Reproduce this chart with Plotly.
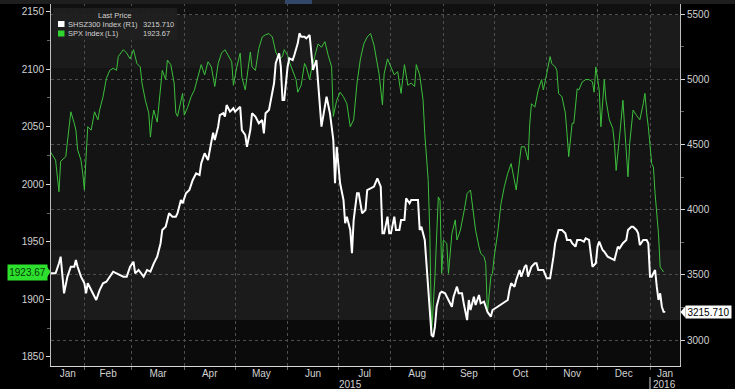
import plotly.graph_objects as go
import pandas as pd

# ---------------- data ----------------
spx_dates = [
    "2015-01-12", "2015-01-15", "2015-01-17", "2015-01-18", "2015-01-21", "2015-01-22", "2015-01-24", "2015-01-26", "2015-01-27", "2015-01-28", "2015-01-30", "2015-01-31",
    "2015-02-01", "2015-02-02", "2015-02-03", "2015-02-05", "2015-02-07", "2015-02-09", "2015-02-10", "2015-02-12", "2015-02-14", "2015-02-16", "2015-02-18", "2015-02-20", "2015-02-21", "2015-02-24", "2015-02-26", "2015-02-28",
    "2015-03-02", "2015-03-04", "2015-03-06", "2015-03-07", "2015-03-09", "2015-03-11", "2015-03-12", "2015-03-13", "2015-03-14", "2015-03-16", "2015-03-18", "2015-03-19", "2015-03-21", "2015-03-22", "2015-03-24", "2015-03-26", "2015-03-27", "2015-03-28", "2015-03-31",
    "2015-04-01", "2015-04-03", "2015-04-05", "2015-04-07", "2015-04-09", "2015-04-11", "2015-04-13", "2015-04-15", "2015-04-17", "2015-04-19", "2015-04-21", "2015-04-23", "2015-04-25", "2015-04-27", "2015-04-29", "2015-04-30",
    "2015-05-02", "2015-05-04", "2015-05-05", "2015-05-07", "2015-05-08", "2015-05-10", "2015-05-11", "2015-05-13", "2015-05-15", "2015-05-17", "2015-05-19", "2015-05-21", "2015-05-23", "2015-05-25", "2015-05-27", "2015-05-29", "2015-05-30",
    "2015-06-01", "2015-06-02", "2015-06-04", "2015-06-06", "2015-06-07", "2015-06-09", "2015-06-11", "2015-06-12", "2015-06-14", "2015-06-15", "2015-06-17", "2015-06-19", "2015-06-21", "2015-06-23", "2015-06-25", "2015-06-27", "2015-06-28", "2015-06-30",
    "2015-07-02", "2015-07-04", "2015-07-06", "2015-07-08", "2015-07-10", "2015-07-12", "2015-07-14", "2015-07-16", "2015-07-18", "2015-07-20", "2015-07-22", "2015-07-24", "2015-07-25", "2015-07-27", "2015-07-28", "2015-07-30",
    "2015-08-01", "2015-08-03", "2015-08-05", "2015-08-07", "2015-08-09", "2015-08-11", "2015-08-13", "2015-08-15", "2015-08-16", "2015-08-18", "2015-08-20", "2015-08-21", "2015-08-23", "2015-08-24", "2015-08-25", "2015-08-27", "2015-08-29", "2015-08-30", "2015-08-31",
    "2015-09-01", "2015-09-03", "2015-09-04", "2015-09-06", "2015-09-08", "2015-09-09", "2015-09-11", "2015-09-13", "2015-09-15", "2015-09-17", "2015-09-18", "2015-09-20", "2015-09-22", "2015-09-23", "2015-09-25", "2015-09-26", "2015-09-27", "2015-09-29", "2015-09-30",
    "2015-10-01", "2015-10-03", "2015-10-05", "2015-10-07", "2015-10-09", "2015-10-11", "2015-10-13", "2015-10-14", "2015-10-16", "2015-10-17", "2015-10-19", "2015-10-21", "2015-10-22", "2015-10-23", "2015-10-25", "2015-10-27", "2015-10-29", "2015-10-30",
    "2015-11-01", "2015-11-03", "2015-11-04", "2015-11-06", "2015-11-07", "2015-11-08", "2015-11-10", "2015-11-12", "2015-11-13", "2015-11-14", "2015-11-16", "2015-11-17", "2015-11-19", "2015-11-20", "2015-11-22", "2015-11-24", "2015-11-26", "2015-11-28", "2015-11-29", "2015-11-30",
    "2015-12-02", "2015-12-03", "2015-12-05", "2015-12-06", "2015-12-08", "2015-12-10", "2015-12-11", "2015-12-12", "2015-12-14", "2015-12-16", "2015-12-17", "2015-12-19", "2015-12-20", "2015-12-22", "2015-12-24", "2015-12-26", "2015-12-28", "2015-12-29", "2015-12-30", "2015-12-31",
    "2016-01-02", "2016-01-03", "2016-01-04", "2016-01-06", "2016-01-07", "2016-01-09",
]
spx_values = [
    2028, 2021, 1993.5, 2020, 2024, 2036, 2063, 2053, 2047, 2030, 2021, 2010,
    1995, 2024, 2050, 2047, 2063, 2056, 2064.5, 2076, 2092, 2099, 2100.8, 2099, 2111, 2117, 2114, 2109,
    2117, 2105, 2102, 2088, 2073, 2062, 2041, 2056, 2064.5, 2054, 2082, 2099, 2091, 2108, 2104, 2088, 2062, 2059, 2079,
    2060, 2067, 2076, 2082, 2093, 2104, 2095, 2106.5, 2102, 2085, 2105, 2114, 2117, 2112, 2106.5, 2086,
    2102, 2114, 2093, 2082, 2093, 2115, 2102, 2099, 2118, 2128, 2130, 2131, 2128, 2115, 2109, 2111, 2117,
    2112, 2106.5, 2099, 2091, 2080, 2086, 2105, 2102, 2091, 2099, 2111, 2122, 2119, 2124, 2112, 2102, 2059, 2073,
    2080, 2076, 2070, 2050, 2056, 2088, 2109, 2122, 2128, 2131, 2121, 2105, 2096, 2069, 2096, 2109,
    2102, 2095, 2098, 2079, 2104, 2086, 2088, 2085, 2104, 2095, 2073, 2044, 2004, 1957, 1870, 1919.6, 1989, 1986, 1922.5,
    1951.5, 1948.6, 1922.5, 1957, 1969, 1951.5, 1960, 1975, 1992, 1995, 1983, 1960, 1945.7, 1940, 1937, 1931, 1887.7, 1919.6, 1922.5,
    1937, 1957, 1983, 1998, 2009.5, 2018, 2004, 1995, 2021, 2032.6, 2032.6, 2021, 2053, 2070, 2067, 2082, 2091, 2082,
    2096, 2111, 2105, 2102, 2099, 2079, 2076, 2062, 2044, 2024, 2053, 2053, 2083, 2082, 2089, 2091, 2091, 2089, 2080, 2102,
    2082, 2050, 2091, 2073, 2056, 2048.6, 2035.6, 2012, 2041, 2073, 2050, 2006.5, 2035.6, 2064.5, 2060, 2056, 2070, 2079, 2062, 2050,
    2018, 2015, 1992, 1957, 1928, 1923.67,
]

csi_dates = [
    "2015-01-12", "2015-01-15", "2015-01-17", "2015-01-18", "2015-01-20", "2015-01-22", "2015-01-24", "2015-01-26", "2015-01-27", "2015-01-28", "2015-01-30",
    "2015-02-01", "2015-02-02", "2015-02-03", "2015-02-05", "2015-02-06", "2015-02-08", "2015-02-10", "2015-02-12", "2015-02-14", "2015-02-16", "2015-02-18", "2015-02-20", "2015-02-22", "2015-02-24", "2015-02-26", "2015-02-28",
    "2015-03-02", "2015-03-03", "2015-03-05", "2015-03-07", "2015-03-08", "2015-03-10", "2015-03-12", "2015-03-14", "2015-03-16", "2015-03-18", "2015-03-19", "2015-03-21", "2015-03-23", "2015-03-25", "2015-03-27", "2015-03-28", "2015-03-30", "2015-03-31",
    "2015-04-02", "2015-04-04", "2015-04-06", "2015-04-08", "2015-04-10", "2015-04-11", "2015-04-13", "2015-04-15", "2015-04-16", "2015-04-18", "2015-04-19", "2015-04-21", "2015-04-22", "2015-04-24", "2015-04-25", "2015-04-26", "2015-04-28", "2015-04-30",
    "2015-05-01", "2015-05-02", "2015-05-04", "2015-05-05", "2015-05-07", "2015-05-08", "2015-05-10", "2015-05-11", "2015-05-13", "2015-05-15", "2015-05-17", "2015-05-18", "2015-05-19", "2015-05-21", "2015-05-22", "2015-05-24", "2015-05-25", "2015-05-27", "2015-05-28", "2015-05-29", "2015-05-30",
    "2015-06-01", "2015-06-02", "2015-06-04", "2015-06-05", "2015-06-07", "2015-06-08", "2015-06-09", "2015-06-11", "2015-06-12", "2015-06-14", "2015-06-15", "2015-06-16", "2015-06-18", "2015-06-19", "2015-06-21", "2015-06-22", "2015-06-24", "2015-06-26", "2015-06-28", "2015-06-29", "2015-06-30",
    "2015-07-02", "2015-07-04", "2015-07-05", "2015-07-06", "2015-07-08", "2015-07-09", "2015-07-10", "2015-07-12", "2015-07-13", "2015-07-15", "2015-07-17", "2015-07-18", "2015-07-20", "2015-07-22", "2015-07-24", "2015-07-26", "2015-07-27", "2015-07-28", "2015-07-30", "2015-07-31",
    "2015-08-01", "2015-08-03", "2015-08-04", "2015-08-06", "2015-08-07", "2015-08-09", "2015-08-10", "2015-08-12", "2015-08-13", "2015-08-15", "2015-08-17", "2015-08-18", "2015-08-19", "2015-08-21", "2015-08-22", "2015-08-23", "2015-08-24", "2015-08-25", "2015-08-26", "2015-08-27", "2015-08-28", "2015-08-30", "2015-08-31",
    "2015-09-02", "2015-09-03", "2015-09-04", "2015-09-06", "2015-09-07", "2015-09-09", "2015-09-10", "2015-09-12", "2015-09-13", "2015-09-15", "2015-09-16", "2015-09-17", "2015-09-19", "2015-09-20", "2015-09-22", "2015-09-23", "2015-09-25", "2015-09-26", "2015-09-27", "2015-09-29", "2015-09-30",
    "2015-10-03", "2015-10-06", "2015-10-09", "2015-10-10", "2015-10-11", "2015-10-13", "2015-10-14", "2015-10-16", "2015-10-17", "2015-10-19", "2015-10-20", "2015-10-21", "2015-10-23", "2015-10-25", "2015-10-26", "2015-10-27", "2015-10-29", "2015-10-30",
    "2015-11-01", "2015-11-03", "2015-11-05", "2015-11-06", "2015-11-08", "2015-11-10", "2015-11-12", "2015-11-13", "2015-11-15", "2015-11-16", "2015-11-18", "2015-11-19", "2015-11-21", "2015-11-23", "2015-11-24", "2015-11-26", "2015-11-28", "2015-11-30",
    "2015-12-01", "2015-12-02", "2015-12-04", "2015-12-05", "2015-12-07", "2015-12-09", "2015-12-11", "2015-12-13", "2015-12-14", "2015-12-16", "2015-12-18", "2015-12-19", "2015-12-21", "2015-12-22", "2015-12-24", "2015-12-25", "2015-12-26", "2015-12-28", "2015-12-30", "2015-12-31",
    "2016-01-01", "2016-01-02", "2016-01-04", "2016-01-05", "2016-01-06", "2016-01-07", "2016-01-08", "2016-01-09", "2016-01-10",
]
csi_values = [
    3511, 3511, 3588, 3639, 3358, 3486, 3562, 3562, 3613, 3562, 3486,
    3435, 3358, 3435, 3383, 3358, 3307, 3383, 3435, 3447, 3486, 3524, 3511, 3498, 3486, 3486, 3562,
    3600, 3511, 3537, 3498, 3486, 3537, 3524, 3588, 3639, 3742, 3844, 3869, 3972, 3946, 3946, 3972, 4074, 4048,
    4125, 4150, 4227, 4278, 4265, 4355, 4432, 4380, 4450, 4590, 4534, 4636, 4725, 4739, 4713, 4802, 4751, 4777,
    4751, 4764, 4789, 4610, 4572, 4482, 4610, 4739, 4713, 4662, 4687, 4585, 4739, 4764, 4840, 4969, 5122, 5199, 5096, 4840, 4840,
    5096, 5160, 5147, 5186, 5275, 5352, 5326, 5326, 5313, 5339, 5199, 5071, 5147, 4969, 4636, 4713, 4866, 4739, 4534, 4202, 4482,
    4202, 4074, 3895, 3946, 3844, 3665, 3920, 4125, 4125, 3972, 3997, 4150, 4163, 4176, 4240, 4176, 3818, 3818, 3946, 3818,
    3818, 3946, 3844, 3844, 3920, 3920, 4087, 4048, 4074, 4074, 4074, 3844, 3869, 3767, 3588, 3358, 3179, 3038, 3025, 3102, 3255, 3358, 3370,
    3358, 3332, 3307, 3255, 3332, 3409, 3358, 3358, 3281, 3153, 3307, 3230, 3332, 3268, 3345, 3281, 3294, 3255, 3217, 3179, 3230,
    3255, 3281, 3307, 3383, 3435, 3409, 3460, 3537, 3486, 3562, 3575, 3486, 3562, 3588, 3588, 3537, 3537, 3537,
    3473, 3473, 3639, 3742, 3844, 3844, 3818, 3767, 3767, 3742, 3716, 3767, 3767, 3754, 3780, 3767, 3562, 3588,
    3716, 3754, 3690, 3677, 3639, 3626, 3613, 3716, 3703, 3742, 3767, 3844, 3869, 3869, 3844, 3818, 3728, 3767, 3767, 3742,
    3486, 3486, 3537, 3409, 3307, 3358, 3255, 3217, 3215.71,
]

month_labels = ["Jan", "Feb", "Mar", "Apr", "May", "Jun", "Jul", "Aug", "Sep", "Oct", "Nov", "Dec", "Jan"]
year_labels = ["2015", "2016"]
left_ticks = [1850, 1900, 1950, 2000, 2050, 2100, 2150]
right_ticks = [3000, 3500, 4000, 4500, 5000, 5500]
spx_name, csi_name = "SPX Index", "SHSZ300 Index"
spx_last, csi_last = "1923.67", "3215.710"

# ---------------- layout geometry ----------------
W, H = 735, 389
PL, PR, PT, PB = 51, 680, 3, 366          # plot box in pixels
x_start = pd.Timestamp("2015-01-12 07:00")
x_end = pd.Timestamp("2016-01-18 17:00")


def fx(px):
    return (px - PL) / (PR - PL)


def fy(py):
    return (PB - py) / (PB - PT)


def path(points):
    return "M " + " L ".join(f"{fx(a):.5f},{fy(b):.5f}" for a, b in points) + " Z"


FONT = "Liberation Sans, Arial, sans-serif"
TXT = "#d2d2d2"

fig = go.Figure()
fig.add_trace(go.Scatter(x=pd.to_datetime(spx_dates), y=spx_values, name=spx_name,
                         mode="lines", line=dict(color="#3cbf3c", width=1), yaxis="y"))
fig.add_trace(go.Scatter(x=pd.to_datetime(csi_dates), y=csi_values, name=csi_name,
                         mode="lines", line=dict(color="#ffffff", width=2), yaxis="y2"))

# month label positions: centre of the visible part of each month
starts = pd.date_range("2015-01-01", "2016-02-01", freq="MS")
mids = []
for a, b in zip(starts[:-1], starts[1:]):
    a2, b2 = max(a, x_start), min(b, x_end)
    mids.append(a2 + (b2 - a2) / 2)

shapes = []
# background bands
bands = [(PT, 15, "#101010"), (15, 68, "#1b1b1b"), (68, 250, "#141414"),
         (250, 320, "#1b1b1b"), (320, PB, "#0b0b0b")]
for top, bot, col in bands:
    shapes.append(dict(type="rect", xref="paper", yref="paper", x0=0, x1=1,
                       y0=fy(bot), y1=fy(top), fillcolor=col, line_width=0, layer="below"))
# top toolbar strip
shapes.append(dict(type="rect", xref="paper", yref="paper", x0=fx(0), x1=fx(W),
                   y0=fy(4), y1=fy(0), fillcolor="#1e1e1e", line_width=0))
shapes.append(dict(type="rect", xref="paper", yref="paper", x0=fx(285), x1=fx(312),
                   y0=fy(4), y1=fy(0), fillcolor="#33476a", line_width=0))
# legend box
shapes.append(dict(type="rect", xref="paper", yref="paper", x0=fx(53), x1=fx(177),
                   y0=fy(40), y1=fy(8), fillcolor="rgba(32,32,32,0.92)", line_width=0))
shapes.append(dict(type="rect", xref="paper", yref="paper", x0=fx(58), x1=fx(64.5),
                   y0=fy(27), y1=fy(21), fillcolor="#ffffff", line_width=0))
shapes.append(dict(type="rect", xref="paper", yref="paper", x0=fx(58), x1=fx(64.5),
                   y0=fy(36.5), y1=fy(30.5), fillcolor="#2fd62f", line_width=0))
# last-value tags (pointer triangles; the boxes are annotation backgrounds)
shapes.append(dict(type="path", xref="paper", yref="paper",
                   path=path([(45.5, 264.5), (50.5, 272), (45.5, 279.5)]),
                   fillcolor="#2ee02e", line_width=0))
shapes.append(dict(type="path", xref="paper", yref="paper",
                   path=path([(680.5, 312), (685.5, 306), (685.5, 318)]),
                   fillcolor="#ffffff", line_width=0))
# year separator
shapes.append(dict(type="line", xref="paper", yref="paper", x0=fx(650), x1=fx(650),
                   y0=fy(389), y1=fy(377), line=dict(color="#cfcfcf", width=1)))

LEG = dict(size=7.5, color=TXT, family=FONT)
annotations = [
    dict(text="Last Price", x=fx(114.5), y=fy(15), showarrow=False, font=LEG),
    dict(text=csi_name, x=fx(66), y=fy(24), xanchor="left", showarrow=False, font=LEG),
    dict(text="(R1)", x=fx(121), y=fy(24), xanchor="left", showarrow=False, font=LEG),
    dict(text=csi_last, x=fx(141), y=fy(24), xanchor="left", showarrow=False, font=LEG),
    dict(text=spx_name, x=fx(66), y=fy(33.5), xanchor="left", showarrow=False, font=LEG),
    dict(text="(L1)", x=fx(103), y=fy(33.5), xanchor="left", showarrow=False, font=LEG),
    dict(text=spx_last, x=fx(141), y=fy(33.5), xanchor="left", showarrow=False, font=LEG),
    dict(text=spx_last, x=fx(27), y=fy(272), showarrow=False, width=37, height=13,
         bgcolor="#2ee02e", borderpad=1, font=dict(size=10, color="#063a06")),
    dict(text=csi_last, x=fx(708), y=fy(312), showarrow=False, width=43, height=10,
         bgcolor="#ffffff", borderpad=1, font=dict(size=10, color="#000000")),
    dict(text=year_labels[0], x=fx(350), y=fy(384), showarrow=False, font=dict(size=10, color=TXT)),
    dict(text=year_labels[1], x=fx(664), y=fy(384), showarrow=False, font=dict(size=10, color=TXT)),
]
for a in annotations:
    a.setdefault("xref", "paper")
    a.setdefault("yref", "paper")
    a.setdefault("xanchor", "center")
    a.setdefault("yanchor", "middle")

fig.update_layout(
    width=W, height=H,
    margin=dict(l=PL, r=W - PR, t=PT, b=H - PB, pad=0, autoexpand=False),
    paper_bgcolor="#000000", plot_bgcolor="#141414",
    showlegend=False,
    font=dict(family=FONT, size=10, color=TXT),
    xaxis=dict(type="date", range=[x_start, x_end], tickvals=mids, ticktext=month_labels,
               automargin=False, ticks="", showgrid=False, showline=True, linecolor="#d8d8d8",
               linewidth=1, tickfont=dict(size=10, color=TXT), zeroline=False,
               ticklabelstandoff=-2,
               minor=dict(tick0="2015-01-01", dtick="M1", showgrid=True, gridcolor="#4e4e4e",
                          griddash="dot", gridwidth=1, ticks="outside", ticklen=3, tickcolor="#666")),
    yaxis=dict(range=[1842.0, 2157.57], tickvals=left_ticks, showgrid=False, zeroline=False,
               automargin=False, showline=True, linecolor="#bdbdbd", linewidth=1, ticks="outside",
               ticklen=4, tickcolor="#d8d8d8", tickfont=dict(size=10, color=TXT),
               minor=dict(dtick=25, tick0=1850, ticks="outside", ticklen=3, tickcolor="#666")),
    yaxis2=dict(range=[2800.6, 5584.4], tickvals=right_ticks, overlaying="y", side="right",
                automargin=False, showgrid=True, gridcolor="#4e4e4e", griddash="dot", gridwidth=1,
                zeroline=False, showline=True, linecolor="#bdbdbd", linewidth=1, ticks="outside",
                ticklen=4, tickcolor="#d8d8d8", tickfont=dict(size=10, color=TXT),
                minor=dict(dtick=250, tick0=3000, ticks="outside", ticklen=3, tickcolor="#666")),
    shapes=shapes,
    annotations=annotations,
)

fig.write_html(
    "out.html",
    config={"displayModeBar": False},
    post_script="document.body.style.margin='0';document.body.style.background='#000';",
)
